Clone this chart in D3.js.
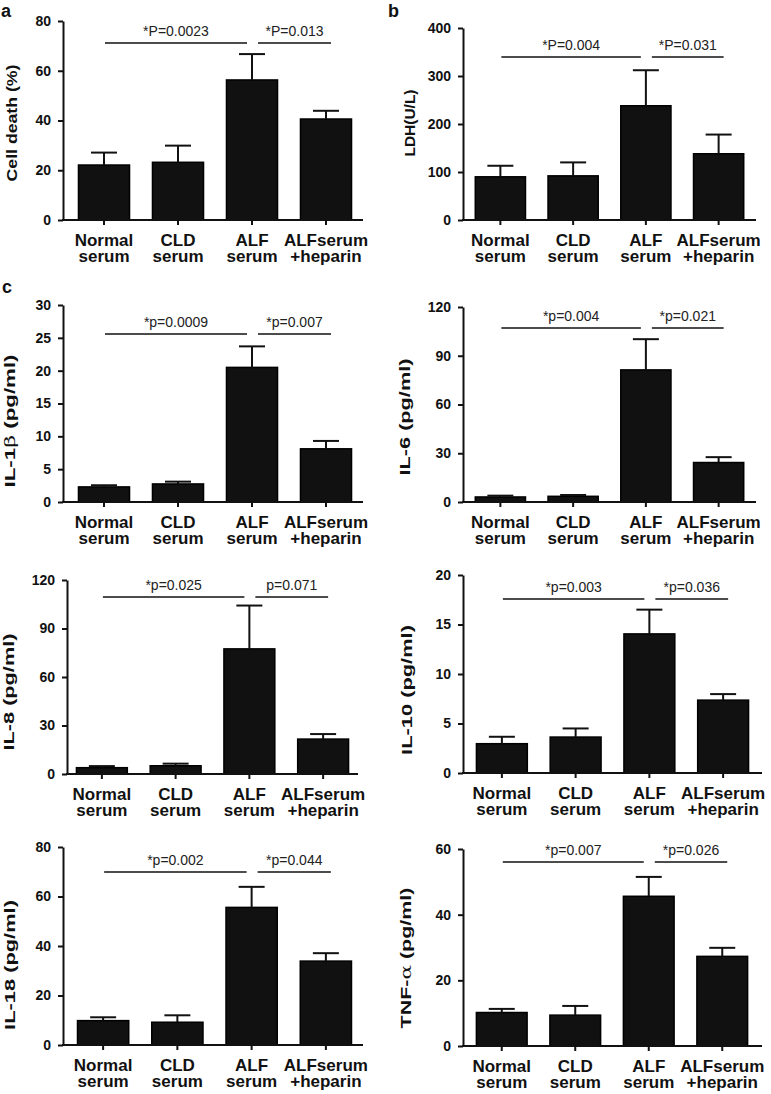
<!DOCTYPE html>
<html lang="en">
<head>
  <meta charset="UTF-8">
  <script src="https://d3js.org/d3.v7.min.js"></script>
  <style>
    body { margin: 0; background: #fff; }
    text { font-family: Arial, "Liberation Sans", sans-serif; fill: #111; }
    .axis path, .axis line { stroke: #111; stroke-width: 2px; }
    .axis text { font-size: 14px; font-weight: bold; }
    .cat { font-size: 17px; font-weight: bold; }
    .ylab { font-size: 14px; font-weight: bold; }
    .sig { font-size: 14px; fill: #222; }
    .letter { font-size: 18px; font-weight: bold; }
  </style>
  <title>Serum cytotoxicity and cytokines</title>
</head>
<body>
  <svg id="fig" width="771" height="1094"></svg>
  <script>
    // group labels (two lines each under the axis)
    var categories = ["Normal serum", "CLD serum", "ALF serum", "ALFserum +heparin"];
    var labelLines = [["Normal", "serum"], ["CLD", "serum"], ["ALF", "serum"], ["ALFserum", "+heparin"]];

    // means and error (upper whisker)
    var cellDeathMean = [22.1, 23.2, 56.3, 40.6];
    var cellDeathErr = [5.0, 6.7, 10.4, 3.3];
    var ldhMean = [90, 92, 238, 138];
    var ldhErr = [23, 28, 74, 40];
    var il1bMean = [2.3, 2.75, 20.5, 8.1];
    var il1bErr = [0.25, 0.35, 3.2, 1.2];
    var il6Mean = [3.1, 3.5, 81.3, 24.3];
    var il6Err = [0.8, 0.8, 18.9, 3.3];
    var il8Mean = [3.9, 5.1, 77.4, 21.6];
    var il8Err = [1.0, 1.3, 26.8, 3.1];
    var il10Mean = [2.96, 3.63, 14.05, 7.36];
    var il10Err = [0.7, 0.87, 2.45, 0.61];
    var il18Mean = [9.85, 9.2, 55.6, 33.9];
    var il18Err = [1.35, 2.8, 8.3, 3.2];
    var tnfMean = [10.2, 9.4, 45.6, 27.3];
    var tnfErr = [1.1, 2.8, 5.9, 2.6];

    var yMax = [80, 400, 30, 120, 120, 20, 80, 60];
    var yStep = [20, 100, 5, 30, 30, 5, 20, 20];
    var yTitles = ["Cell death (%)", "LDH(U/L)", "IL-1β (pg/ml)", "IL-6 (pg/ml)",
      "IL-8 (pg/ml)", "IL-10 (pg/ml)", "IL-18 (pg/ml)", "TNF-α (pg/ml)"];
    var pValues = [["*P=0.0023", "*P=0.013"], ["*P=0.004", "*P=0.031"], ["*p=0.0009", "*p=0.007"],
      ["*p=0.004", "*p=0.021"], ["*p=0.025", "p=0.071"], ["*p=0.003", "*p=0.036"],
      ["*p=0.002", "*p=0.044"], ["*p=0.007", "*p=0.026"]];

    var panels = [
      { mean: cellDeathMean, err: cellDeathErr },
      { mean: ldhMean, err: ldhErr },
      { mean: il1bMean, err: il1bErr },
      { mean: il6Mean, err: il6Err },
      { mean: il8Mean, err: il8Err },
      { mean: il10Mean, err: il10Err },
      { mean: il18Mean, err: il18Err },
      { mean: tnfMean, err: tnfErr }
    ];

    // where each little graph sits on the page
    var layout = [
      { letter: "a", lx: 1, ly: 17, axisX: 63, top: 21, bottom: 220, right: 363, band: [67, 363], sigY: 43, ylabX: 12, ylabY: 123, ylabLen: 117 },
      { letter: "b", lx: 388, ly: 17, axisX: 463, top: 28, bottom: 220, right: 756, band: [464, 755], sigY: 57, ylabX: 410, ylabY: 123, ylabLen: 67 },
      { letter: "c", lx: 2, ly: 293, axisX: 63, top: 305, bottom: 502, right: 363, band: [67, 363], sigY: 334, ylabX: 10, ylabY: 421, ylabLen: 133 },
      { letter: "", axisX: 463, top: 307, bottom: 502, right: 756, band: [464, 755], sigY: 328, ylabX: 405, ylabY: 417, ylabLen: 117 },
      { letter: "", axisX: 67, top: 580, bottom: 774, right: 358, band: [65, 360], sigY: 597, ylabX: 9, ylabY: 692, ylabLen: 117 },
      { letter: "", axisX: 463, top: 575, bottom: 773, right: 762, band: [465, 760], sigY: 599, ylabX: 407, ylabY: 690, ylabLen: 130 },
      { letter: "", axisX: 63, top: 847, bottom: 1045, right: 363, band: [66, 363], sigY: 872, ylabX: 10, ylabY: 965, ylabLen: 130 },
      { letter: "", axisX: 463, top: 849, bottom: 1046, right: 762, band: [465, 759], sigY: 862, ylabX: 406, ylabY: 958, ylabLen: 141 }
    ];

    var svg = d3.select("#fig");
    var capW = 26;

    panels.forEach(function (p, k) {
      var L = layout[k];
      var g = svg.append("g");

      var x = d3.scaleBand()
        .domain(categories)
        .range(L.band)
        .paddingInner(0.31)
        .paddingOuter(0.155);

      var y = d3.scaleLinear()
        .domain([0, yMax[k]])
        .range([L.bottom, L.top]);

      var cx = function (i) { return x(categories[i]) + x.bandwidth() / 2; };

      // bars
      g.selectAll("rect.bar")
        .data(p.mean)
        .enter().append("rect")
        .attr("class", "bar")
        .attr("x", function (d, i) { return x(categories[i]); })
        .attr("y", function (d) { return y(d); })
        .attr("width", x.bandwidth())
        .attr("height", function (d) { return y(0) - y(d); })
        .attr("fill", "#111")
        .attr("stroke", "#000")
        .attr("stroke-width", 1.5);

      // upper error whiskers
      var eb = g.selectAll("g.err")
        .data(p.mean)
        .enter().append("g")
        .attr("class", "err")
        .attr("stroke", "#111")
        .attr("stroke-width", 2);
      eb.append("line")
        .attr("x1", function (d, i) { return cx(i); })
        .attr("x2", function (d, i) { return cx(i); })
        .attr("y1", function (d) { return y(d); })
        .attr("y2", function (d, i) { return y(d + p.err[i]); });
      eb.append("line")
        .attr("x1", function (d, i) { return cx(i) - capW / 2; })
        .attr("x2", function (d, i) { return cx(i) + capW / 2; })
        .attr("y1", function (d, i) { return y(d + p.err[i]); })
        .attr("y2", function (d, i) { return y(d + p.err[i]); });

      // y axis
      g.append("g")
        .attr("class", "axis")
        .attr("transform", "translate(" + L.axisX + ",0)")
        .call(d3.axisLeft(y)
          .tickValues(d3.range(0, yMax[k] + 0.001, yStep[k]))
          .tickSize(5)
          .tickSizeOuter(0)
          .tickPadding(7));

      // x axis: baseline plus small ticks under each bar
      var xa = g.append("g")
        .attr("class", "axis")
        .attr("transform", "translate(0," + L.bottom + ")")
        .call(d3.axisBottom(x).tickSize(5).tickFormat(""));
      xa.select(".domain").remove();
      xa.append("line")
        .attr("x1", L.axisX - 1)
        .attr("x2", L.right)
        .attr("stroke", "#111")
        .attr("stroke-width", 2);

      // two-line group labels
      labelLines.forEach(function (lines, i) {
        var t = g.append("text")
          .attr("class", "cat")
          .attr("text-anchor", "middle")
          .attr("x", cx(i))
          .attr("y", L.bottom + 26);
        t.append("tspan").attr("x", cx(i)).text(lines[0]);
        t.append("tspan").attr("x", cx(i)).attr("dy", 16).text(lines[1]);
      });

      // y title, stretched along its length like the original
      var yt = g.append("text")
        .attr("class", "ylab")
        .attr("text-anchor", "middle");
      yTitles[k].split(/([α-ω])/).forEach(function (part) {
        if (!part) return;
        var s = yt.append("tspan").text(part);
        if (/[α-ω]/.test(part)) s.attr("font-family", "DejaVu Serif").attr("font-weight", "normal");
      });
      var natural = yt.node().getComputedTextLength();
      yt.attr("transform", "translate(" + (L.ylabX + 5) + "," + L.ylabY + ") rotate(-90) scale(" + (L.ylabLen / natural) + ",1)");

      // significance bars
      var segs = [[cx(0) + 1, cx(2) - 5], [cx(2) + 6, cx(3) + 5]];
      segs.forEach(function (s, j) {
        g.append("line")
          .attr("x1", s[0]).attr("x2", s[1])
          .attr("y1", L.sigY).attr("y2", L.sigY)
          .attr("stroke", "#111")
          .attr("stroke-width", 1.5);
        g.append("text")
          .attr("class", "sig")
          .attr("text-anchor", "middle")
          .attr("x", (s[0] + s[1]) / 2)
          .attr("y", L.sigY - 7)
          .text(pValues[k][j]);
      });

      if (L.letter) {
        svg.append("text")
          .attr("class", "letter")
          .attr("x", L.lx)
          .attr("y", L.ly)
          .text(L.letter);
      }
    });
  </script>
</body>
</html>
